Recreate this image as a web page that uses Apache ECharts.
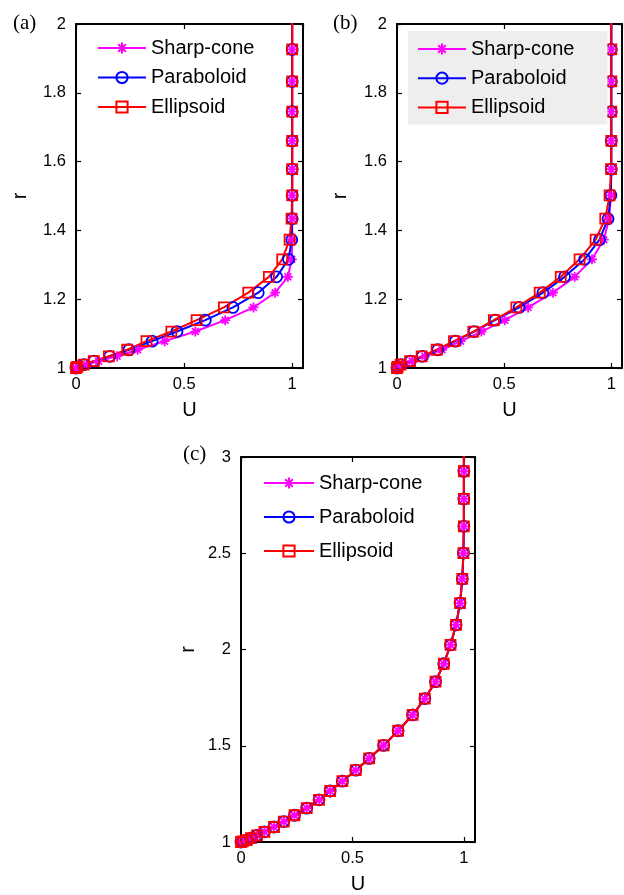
<!DOCTYPE html>
<html><head><meta charset="utf-8">
<script src="https://cdn.jsdelivr.net/npm/echarts@6/dist/echarts.min.js"></script>
<style>html,body{margin:0;padding:0;background:#fff}#c{width:624px;height:895px}</style>
</head><body><div id="c"></div>
<script>
// ---- data ----
const seriesNames = ['Sharp-cone', 'Paraboloid', 'Ellipsoid'];
const panelLabels = ['(a)', '(b)', '(c)'];
const rGrid = [1.000, 1.003, 1.010, 1.020, 1.034, 1.053, 1.078, 1.106, 1.139, 1.176,
               1.219, 1.265, 1.316, 1.373, 1.434, 1.502, 1.578, 1.660, 1.745, 1.833,
               1.926, 2.024, 2.128, 2.241, 2.367, 2.501, 2.640, 2.782, 2.926, 3.075];
// panel (a)
const aSharp = [0, 0.012, 0.05, 0.105, 0.19, 0.285, 0.41, 0.552, 0.69, 0.821, 0.921, 0.98, 0.998, 1, 1, 1, 1, 1, 1, 1, 1, 1];
const aPara  = [0, 0.006, 0.037, 0.083, 0.156, 0.245, 0.352, 0.467, 0.598, 0.726, 0.843, 0.928, 0.983, 0.998, 1, 1, 1, 1, 1, 1, 1, 1];
const aEll   = [0, 0.006, 0.036, 0.082, 0.152, 0.237, 0.326, 0.441, 0.558, 0.684, 0.797, 0.892, 0.954, 0.988, 0.997, 1, 1, 1, 1, 1, 1, 1];
// panel (b)
const bSharp = [0, 0.005, 0.025, 0.07, 0.13, 0.21, 0.297, 0.394, 0.503, 0.612, 0.728, 0.829, 0.91, 0.965, 0.99, 0.998, 1, 1, 1, 1, 1, 1];
const bPara  = [0, 0.003, 0.018, 0.063, 0.118, 0.19, 0.272, 0.36, 0.458, 0.57, 0.681, 0.782, 0.876, 0.945, 0.985, 0.998, 1, 1, 1, 1, 1, 1];
const bEll   = [0, 0.003, 0.017, 0.061, 0.115, 0.185, 0.266, 0.356, 0.452, 0.557, 0.666, 0.764, 0.852, 0.927, 0.972, 0.992, 0.999, 1, 1, 1, 1, 1];
// panel (c)
const cSharp = [0, 0.008, 0.025, 0.045, 0.072, 0.105, 0.148, 0.192, 0.24, 0.295, 0.35, 0.40, 0.455, 0.515, 0.575, 0.64, 0.705, 0.77, 0.825, 0.873, 0.91, 0.94, 0.965, 0.983, 0.993, 0.998, 1, 1, 1, 1];
const cPara  = [0, 0.008, 0.025, 0.045, 0.072, 0.105, 0.148, 0.192, 0.24, 0.295, 0.35, 0.40, 0.455, 0.515, 0.575, 0.64, 0.705, 0.77, 0.825, 0.873, 0.91, 0.94, 0.965, 0.983, 0.993, 0.998, 1, 1, 1, 1];
const cEll   = [0, 0.008, 0.025, 0.045, 0.072, 0.105, 0.148, 0.192, 0.24, 0.295, 0.35, 0.40, 0.455, 0.515, 0.575, 0.64, 0.705, 0.77, 0.825, 0.873, 0.91, 0.94, 0.965, 0.983, 0.993, 0.998, 1, 1, 1, 1];
// axis ticks
const xTicks = [0, 0.5, 1];
const yTicksAB = [1, 1.2, 1.4, 1.6, 1.8, 2];
const yTicksC = [1, 1.5, 2, 2.5, 3];

// ---- styling ----
const FONT = 'Liberation Sans';
const colors = ['#ff00ff', '#0000ff', '#ff0000'];
const starPath = 'path://M0,5L10,5M5,0L5,10M1.6,1.6L8.4,8.4M1.6,8.4L8.4,1.6';
const symbols = [starPath, 'circle', 'rect'];
const symbolSizes = [10, 11, 10];
const rnd = v => Math.round(v * 1e6) / 1e6;
const fmt = v => String(rnd(v));

const grids = [
  {left: 76, top: 24, width: 227, height: 344},
  {left: 397, top: 24, width: 225, height: 344},
  {left: 241, top: 457, width: 234, height: 385}
];
const panels = [
  {data: [aSharp, aPara, aEll], yTicks: yTicksAB, yGap: 46},
  {data: [bSharp, bPara, bEll], yTicks: yTicksAB, yGap: 47},
  {data: [cSharp, cPara, cEll], yTicks: yTicksC, yGap: 43}
];

const xAxes = [], yAxes = [], series = [];
const lineAx = {show: true, onZero: false, lineStyle: {color: '#000', width: 2}};
const tickIn = {show: true, inside: true, length: 5, lineStyle: {color: '#000', width: 1.2}};
panels.forEach((p, gi) => {
  const xmin = xTicks[0], xint = rnd(xTicks[1] - xTicks[0]);
  const ymin = p.yTicks[0], ymax = p.yTicks[p.yTicks.length - 1], yint = rnd(p.yTicks[1] - p.yTicks[0]);
  xAxes.push({type: 'value', gridIndex: gi, position: 'bottom', min: xmin, max: 1.05, interval: xint,
    axisLine: lineAx, axisTick: tickIn, splitLine: {show: false},
    axisLabel: {color: '#000', fontSize: 16.5, fontFamily: FONT, margin: 8, showMaxLabel: false,
      formatter: v => (xTicks.indexOf(rnd(v)) >= 0 ? fmt(v) : '')},
    name: 'U', nameLocation: 'middle', nameGap: 32,
    nameTextStyle: {color: '#000', fontSize: 20, fontFamily: FONT}});
  xAxes.push({type: 'value', gridIndex: gi, position: 'top', min: xmin, max: 1.05, interval: xint,
    axisLine: lineAx, axisTick: tickIn, splitLine: {show: false}, axisLabel: {show: false}});
  yAxes.push({type: 'value', gridIndex: gi, position: 'left', min: ymin, max: ymax, interval: yint,
    axisLine: lineAx, axisTick: tickIn, splitLine: {show: false},
    axisLabel: {color: '#000', fontSize: 16.5, fontFamily: FONT, margin: 10, formatter: fmt},
    name: 'r', nameLocation: 'middle', nameGap: p.yGap, nameRotate: 90,
    nameTextStyle: {color: '#000', fontSize: 20, fontFamily: FONT}});
  yAxes.push({type: 'value', gridIndex: gi, position: 'right', min: ymin, max: ymax, interval: yint,
    axisLine: lineAx, axisTick: tickIn, splitLine: {show: false}, axisLabel: {show: false}});
  p.data.forEach((vals, si) => {
    series.push({
      type: 'line', name: seriesNames[si], xAxisIndex: gi * 2, yAxisIndex: gi * 2,
      data: vals.map((u, i) => [u, rGrid[i]]),
      symbol: symbols[si], symbolSize: symbolSizes[si], showSymbol: true, showAllSymbol: true,
      clip: true, animation: false, silent: true,
      lineStyle: {color: colors[si], width: 2},
      itemStyle: {color: 'rgba(0,0,0,0)', borderColor: colors[si], borderWidth: 1.8},
      emphasis: {disabled: true}
    });
  });
});

const legendText = {color: '#000', fontSize: 20, fontFamily: FONT};
const legends = [
  {left: 97, top: 38, padding: 0, itemGap: 9.5},
  {left: 408, top: 31, padding: [8, 33, 7, 9], itemGap: 9.2, backgroundColor: '#eeeeee'},
  {left: 263, top: 473, padding: 0, itemGap: 14, itemWidth: 50}
].map(l => Object.assign({
  orient: 'vertical', data: seriesNames, itemWidth: 48, itemHeight: 14,
  textStyle: legendText, selectedMode: false, inactiveColor: '#000'
}, l));

const graphic = [
  {type: 'text', left: 13, top: 13, style: {text: panelLabels[0], fill: '#000', font: '21px "Liberation Serif"'}},
  {type: 'text', left: 333, top: 13, style: {text: panelLabels[1], fill: '#000', font: '21px "Liberation Serif"'}},
  {type: 'text', left: 183, top: 444, style: {text: panelLabels[2], fill: '#000', font: '21px "Liberation Serif"'}}
];

const chart = echarts.init(document.getElementById('c'), null, {renderer: 'canvas'});
chart.setOption({
  animation: false,
  backgroundColor: '#fff',
  grid: grids.map(g => Object.assign({containLabel: false, outerBoundsMode: 'none'}, g)),
  xAxis: xAxes, yAxis: yAxes, series, legend: legends, graphic
});
</script></body></html>
